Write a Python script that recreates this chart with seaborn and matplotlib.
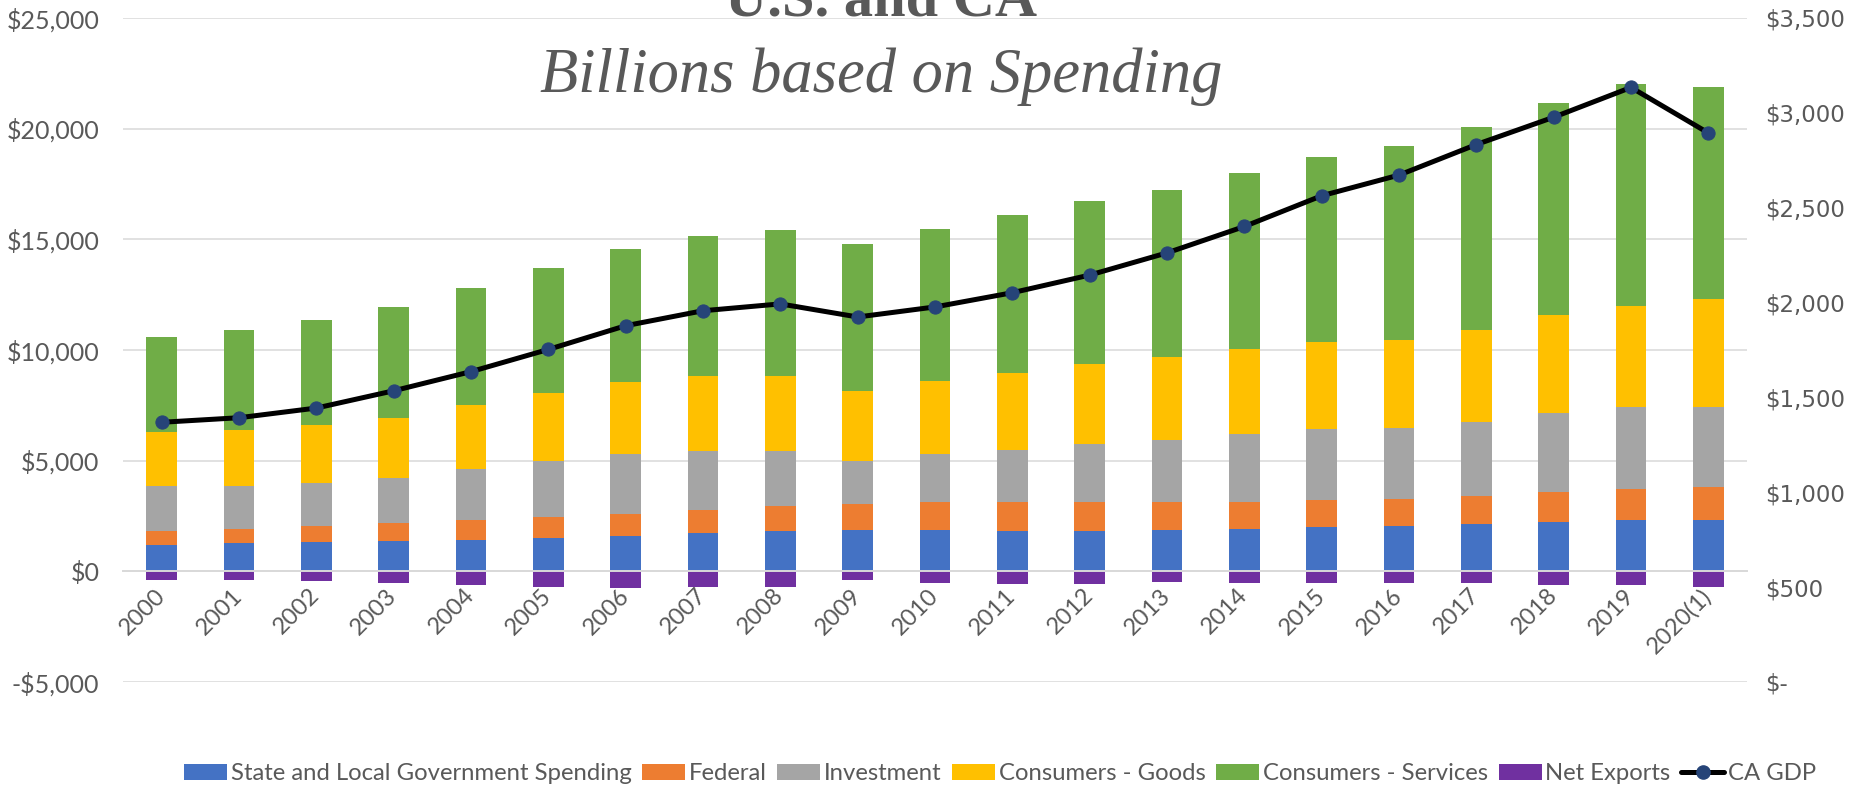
import numpy as np
import matplotlib
matplotlib.use("Agg")
import matplotlib.pyplot as plt
import seaborn as sns
from matplotlib.patches import Patch
from matplotlib.lines import Line2D
from matplotlib.ticker import FuncFormatter, MultipleLocator

# U.S. GDP components (billions of dollars) and California GDP
years = ["2000", "2001", "2002", "2003", "2004", "2005", "2006", "2007", "2008",
         "2009", "2010", "2011", "2012", "2013", "2014", "2015", "2016", "2017",
         "2018", "2019", "2020(1)"]
state_local = [1190, 1258, 1309, 1360, 1428, 1496, 1598, 1717, 1802, 1853, 1853,
               1819, 1819, 1887, 1921, 1989, 2040, 2125, 2227, 2312, 2312]
federal = [612, 663, 748, 816, 884, 952, 1003, 1037, 1156, 1207, 1275,
           1309, 1309, 1241, 1224, 1224, 1207, 1258, 1343, 1411, 1496]
investment = [2040, 1938, 1955, 2023, 2295, 2550, 2686, 2686, 2465, 1921, 2159,
              2346, 2618, 2805, 3043, 3230, 3213, 3349, 3570, 3706, 3621]
goods = [2465, 2533, 2584, 2737, 2907, 3077, 3247, 3383, 3383, 3179, 3332,
         3502, 3638, 3740, 3876, 3927, 4012, 4182, 4437, 4556, 4896]
services = [4301, 4522, 4743, 4998, 5287, 5644, 6018, 6307, 6596, 6647, 6868,
            7123, 7344, 7565, 7939, 8364, 8755, 9146, 9605, 10030, 9537]
net_exports = [-374, -374, -442, -510, -629, -714, -765, -714, -714, -408, -527,
               -578, -578, -493, -510, -527, -510, -544, -612, -612, -714]
ca_gdp = [1369, 1393, 1444, 1535, 1636, 1753, 1878, 1957, 1993, 1924, 1977,
          2052, 2145, 2262, 2401, 2563, 2672, 2833, 2977, 3134, 2894]

series_names = ["State and Local Government Spending", "Federal", "Investment",
                "Consumers - Goods", "Consumers - Services", "Net Exports"]
series_colors = ["#4472C4", "#ED7D31", "#A5A5A5", "#FFC000", "#70AD47", "#7030A0"]
line_name = "CA GDP"
marker_color = "#264478"
text_color = "#595959"
grid_color = "#D9D9D9"

sns.set_style("white")
plt.rcParams["font.family"] = ["Lato", "DejaVu Sans"]

W, H = 1872, 790
fig = plt.figure(figsize=(W / 100, H / 100), dpi=100)
ax = fig.add_axes([123 / W, 1 - 682 / H, (1747 - 123) / W, (682 - 18) / H])

# Stacked bars: paint cumulative totals from the tallest down so each
# lower component covers the part of the bar that belongs to it.
stack = np.cumsum(np.vstack([state_local, federal, investment, goods, services]), axis=0)
for level in reversed(range(stack.shape[0])):
    sns.barplot(x=years, y=stack[level], color=series_colors[level], width=0.4,
                saturation=1, errorbar=None, linewidth=0, ax=ax)
sns.barplot(x=years, y=net_exports, color=series_colors[5], width=0.4,
            saturation=1, errorbar=None, linewidth=0, ax=ax)

ax.set_xlim(-0.5, len(years) - 0.5)
ax.set_ylim(-5000, 25000)
ax.yaxis.set_major_locator(MultipleLocator(5000))
ax.yaxis.set_major_formatter(FuncFormatter(
    lambda v, _: f"-${abs(v):,.0f}" if v < 0 else f"${v:,.0f}"))
ax.yaxis.grid(True, color=grid_color, linewidth=1.1)
ax.xaxis.grid(False)
ax.set_axisbelow(True)
for side in ("left", "right", "top"):
    ax.spines[side].set_visible(False)
ax.spines["bottom"].set_position(("data", 0))
ax.spines["bottom"].set_color(grid_color)
ax.spines["bottom"].set_linewidth(1.4)
ax.set_xlabel("")
ax.set_ylabel("")
ax.tick_params(axis="y", length=0, pad=17, labelsize=18, labelcolor=text_color)
ax.tick_params(axis="x", length=0, pad=15, labelsize=17, labelcolor=text_color)
plt.setp(ax.get_xticklabels(), rotation=45, ha="right", va="center",
         rotation_mode="anchor")

# California GDP on the secondary axis
ax2 = ax.twinx()
sns.lineplot(x=np.arange(len(years)), y=ca_gdp, ax=ax2, color="black",
             linewidth=3.6, marker="o", markersize=9.5,
             markerfacecolor=marker_color, markeredgecolor=marker_color)
ax2.set_ylim(0, 3500)
ax2.set_xlim(-0.5, len(years) - 0.5)
ax2.yaxis.set_major_locator(MultipleLocator(500))
ax2.yaxis.set_major_formatter(FuncFormatter(
    lambda v, _: "$-" if abs(v) < 1e-9 else f"${v:,.0f}"))
ax2.grid(False)
for side in ("left", "right", "top", "bottom"):
    ax2.spines[side].set_visible(False)
ax2.set_ylabel("")
ax2.tick_params(axis="y", length=0, pad=13, labelsize=16.5, labelcolor=text_color,
                labelfontfamily="DejaVu Sans")

# Titles
fig.text(881 / W, 1 - 15 / H, "U.S. and CA", ha="center", va="baseline",
         fontsize=42, fontweight="bold", family="Liberation Serif", color=text_color)
fig.text(881 / W, 1 - 92 / H, "Billions based on Spending", ha="center",
         va="baseline", fontsize=45, style="italic", family="Liberation Serif",
         color=text_color)

# Legend
handles = [Patch(facecolor=c, edgecolor="none") for c in series_colors]
handles.append(Line2D([], [], color="black", linewidth=3.6, marker="o", markersize=9.5,
                      markerfacecolor=marker_color, markeredgecolor=marker_color))
labels = series_names + [line_name]
fig.legend(handles, labels, loc="center", bbox_to_anchor=(1000 / W, 1 - 774 / H),
           ncol=7, frameon=False, fontsize=17.2, handlelength=1.8, handleheight=0.63,
           handletextpad=0.15, columnspacing=0.45, labelcolor=text_color)

fig.savefig("out.png", dpi=100)
